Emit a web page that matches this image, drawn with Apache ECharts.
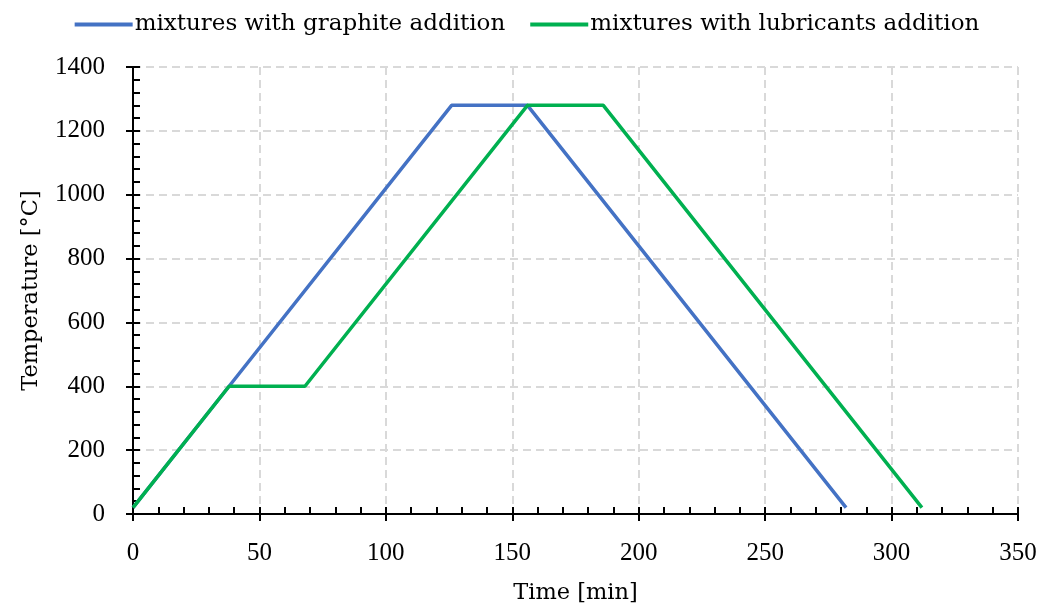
<!DOCTYPE html>
<html><head><meta charset="utf-8">
<script src="https://cdn.jsdelivr.net/npm/echarts@6/dist/echarts.min.js"></script>
<style>html,body{margin:0;padding:0;background:#fff}#c{width:1054px;height:610px}</style>
</head><body><div id="c"></div>
<script>
const seriesNames = ['mixtures with graphite addition', 'mixtures with lubricants addition'];
const graphiteTime = [0, 38, 126, 156, 282];
const graphiteTemp = [20, 400, 1280, 1280, 20];
const lubricantTime = [0, 38, 68, 156, 186, 312];
const lubricantTemp = [20, 400, 400, 1280, 1280, 20];
const xTicks = [0, 50, 100, 150, 200, 250, 300, 350];
const yTicks = [0, 200, 400, 600, 800, 1000, 1200, 1400];

const font = 'DejaVu Serif';
const numFont = 'Liberation Serif';
const pair = (xs, ys) => xs.map((x, i) => [x, ys[i]]);
const chart = echarts.init(document.getElementById('c'));
const axisLine = {show: true, lineStyle: {color: '#000', width: 2}};
const plain = v => String(v);
chart.setOption({
  animation: false,
  textStyle: {fontFamily: font},
  legend: {
    top: 8, left: 'center', itemWidth: 58, itemHeight: 4, itemGap: 25, icon: 'rect',
    textStyle: {fontFamily: font, fontSize: 23, color: '#000', padding: [0, 0, 0, -3]},
    data: seriesNames
  },
  grid: {left: 133, right: 36, top: 67, bottom: 96, outerBoundsMode: 'none', containLabel: false},
  xAxis: [{
    type: 'value', min: xTicks[0], max: xTicks[xTicks.length - 1], interval: 50,
    name: 'Time [min]', nameLocation: 'middle', nameGap: 68,
    nameTextStyle: {fontFamily: font, fontSize: 22.5, color: '#000'},
    axisLine: axisLine,
    axisTick: {show: true, inside: true, length: 7, lineStyle: {color: '#000', width: 2}},
    minorTick: {show: true, splitNumber: 5, length: 7, lineStyle: {color: '#000', width: 2}},
    axisLabel: {fontFamily: numFont, fontSize: 25, color: '#000', margin: 27, formatter: plain},
    splitLine: {show: true, lineStyle: {color: '#d9d9d9', type: [8, 5], width: 2}}
  }, {
    type: 'value', position: 'bottom', min: xTicks[0], max: xTicks[xTicks.length - 1], interval: 50,
    axisLine: {show: false}, axisLabel: {show: false}, splitLine: {show: false},
    axisTick: {show: true, inside: false, length: 7, lineStyle: {color: '#000', width: 2}}
  }],
  yAxis: [{
    type: 'value', min: yTicks[0], max: yTicks[yTicks.length - 1], interval: 200,
    name: 'Temperature [°C]', nameLocation: 'middle', nameGap: 90,
    nameTextStyle: {fontFamily: font, fontSize: 22.5, color: '#000'},
    axisLine: axisLine,
    axisTick: {show: true, inside: true, length: 7, lineStyle: {color: '#000', width: 2}},
    minorTick: {show: true, splitNumber: 5, length: 7, lineStyle: {color: '#000', width: 2}},
    axisLabel: {fontFamily: numFont, fontSize: 25, color: '#000', margin: 28, formatter: plain},
    splitLine: {show: true, lineStyle: {color: '#d9d9d9', type: [8, 5], width: 2}}
  }, {
    type: 'value', position: 'left', min: yTicks[0], max: yTicks[yTicks.length - 1], interval: 200,
    axisLine: {show: false}, axisLabel: {show: false}, splitLine: {show: false},
    axisTick: {show: true, inside: false, length: 7, lineStyle: {color: '#000', width: 2}}
  }],
  series: [{
    name: seriesNames[0], type: 'line', showSymbol: false, z: 3,
    data: pair(graphiteTime, graphiteTemp),
    itemStyle: {color: '#4472C4'}, lineStyle: {color: '#4472C4', width: 3.5}
  }, {
    name: seriesNames[1], type: 'line', showSymbol: false, z: 4,
    data: pair(lubricantTime, lubricantTemp),
    itemStyle: {color: '#00B050'}, lineStyle: {color: '#00B050', width: 3.5}
  }]
});
</script></body></html>
